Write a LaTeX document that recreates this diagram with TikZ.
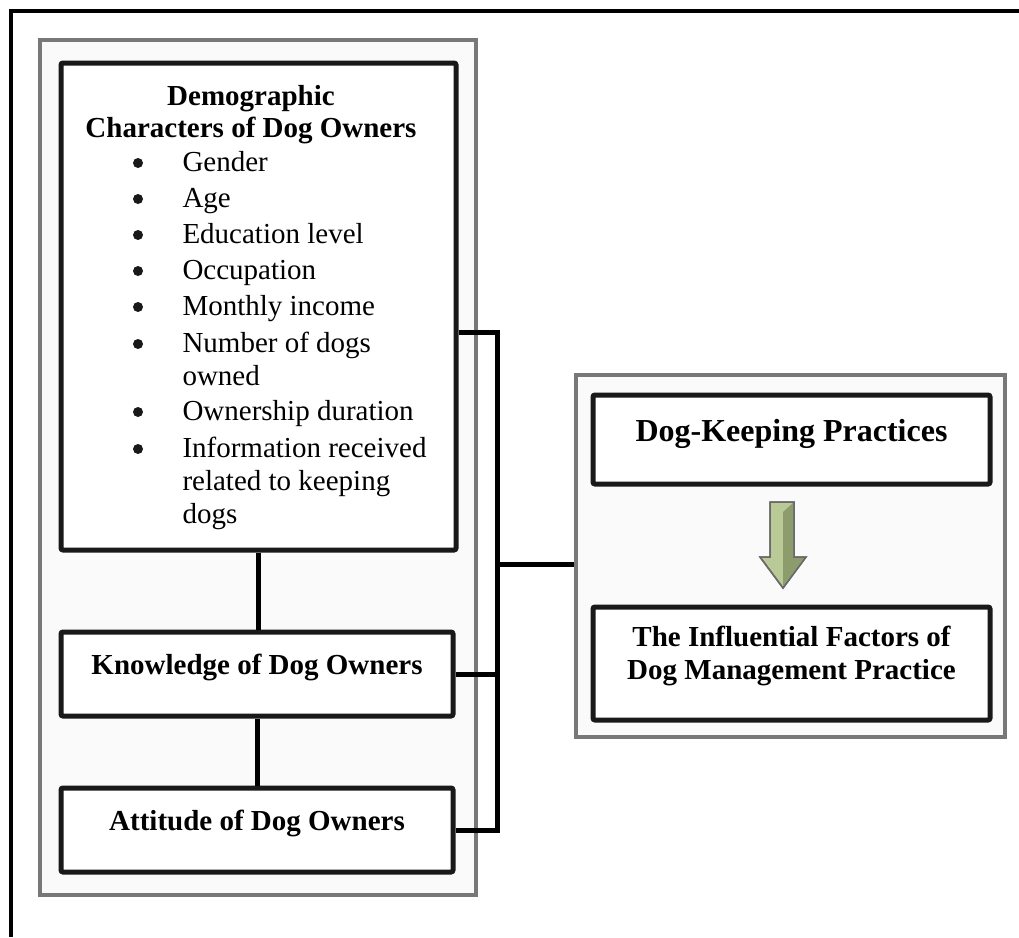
\documentclass[tikz,border=0pt]{standalone}
\usepackage{fontspec}
\setmainfont{Liberation Serif}
\usetikzlibrary{positioning}
\definecolor{panelgray}{RGB}{120,120,120}
\definecolor{panelfill}{RGB}{250,250,250}
\definecolor{arrowlight}{RGB}{186,202,150}
\definecolor{arrowdark}{RGB}{140,156,108}
\definecolor{arrowedge}{RGB}{105,105,105}
\begin{document}
\begin{tikzpicture}[x=1pt,y=-1pt,line width=5pt,
    panel/.style={draw=panelgray,line width=3.5pt,fill=panelfill,inner sep=0pt},
    box/.style={draw=black!90,line width=5pt,rounded corners=2pt,fill=white,
      align=center,inner sep=0pt,font=\fontsize{29}{33}\selectfont\bfseries},
    item/.style={anchor=base west,inner sep=0pt,font=\fontsize{29}{33}\selectfont},
    dot/.style={circle,fill=black!90,inner sep=0pt,minimum size=10pt},
    link/.style={draw=black,line width=5pt}]
    \useasboundingbox (0,0) rectangle (1019,937);
    \draw[line width=4pt] (11,937) -- (11,11) -- (1019,11);
    % panels
    \node[panel,minimum width=436pt,minimum height=855pt] (lpanel) at (258,467.5) {};
    \node[panel,minimum width=429pt,minimum height=362pt] (rpanel) at (790.5,556) {};
    % left boxes
    \node[box,minimum width=395pt,minimum height=487pt] (demo) at (258.5,306.5) {};
    \node[box,minimum width=392pt,minimum height=84pt,text depth=20pt] (know)
      at (257,674) {Knowledge of Dog Owners};
    \node[box,minimum width=392pt,minimum height=84pt,text depth=20pt] (att)
      at (257,830) {Attitude of Dog Owners};
    \node[anchor=north,align=center,inner sep=0pt,
      font=\fontsize{29}{32}\selectfont\bfseries] (demotitle) at (251,83)
      {Demographic\\Characters of Dog Owners};
    \foreach \yy/\txt/\bul [count=\i] in {171/Gender/1, 207/Age/1,
      243/Education level/1, 279/Occupation/1, 315/Monthly income/1,
      352/Number of dogs/1, 385/owned/0, 420/Ownership duration/1,
      457/Information received/1, 490/related to keeping/0, 523/dogs/0}{
      \node[item] (item\i) at (180,\yy) {\txt};
      \ifnum\bul=1 \node[dot] (bullet\i) at (138,\yy-8) {};\fi
    }
    % right boxes
    \node[box,minimum width=397pt,minimum height=89pt,text depth=19pt,
      font=\fontsize{32}{36}\selectfont\bfseries] (dkp) at (791.5,439.5)
      {Dog-Keeping Practices};
    \node[box,minimum width=397pt,minimum height=113pt,text depth=22pt] (ifp)
      at (791.5,663.5) {The Influential Factors of\\Dog Management Practice};
    % arrow
    \draw[draw=arrowedge,line width=1.5pt,fill=arrowlight,line join=miter]
      (770,502) -- (794,502) -- (794,557) -- (806,557) -- (783,588)
      -- (760,557) -- (770,557) -- cycle;
    \fill[arrowdark] (783,512) -- (793.2,502.8) -- (793.2,557.8) -- (804.5,557.8)
      -- (783,586) -- cycle;
    \draw[draw=arrowedge,line width=1.5pt,line join=miter]
      (770,502) -- (794,502) -- (794,557) -- (806,557) -- (783,588)
      -- (760,557) -- (770,557) -- cycle;
    % connectors
    \coordinate (bustop) at (497,332);
    \coordinate (busjoin) at (497,564);
    \draw[link] (demo.east |- bustop) -- (bustop) -- (bustop |- att.east) -- (att.east);
    \draw[link] (know.east) -- (know.east -| bustop);
    \draw[link] (busjoin) -- (busjoin -| rpanel.west);
    \draw[link] (demo.south) -- (demo.south |- know.north);
    \draw[link] (know.south) -- (know.south |- att.north);
\end{tikzpicture}
\end{document}
